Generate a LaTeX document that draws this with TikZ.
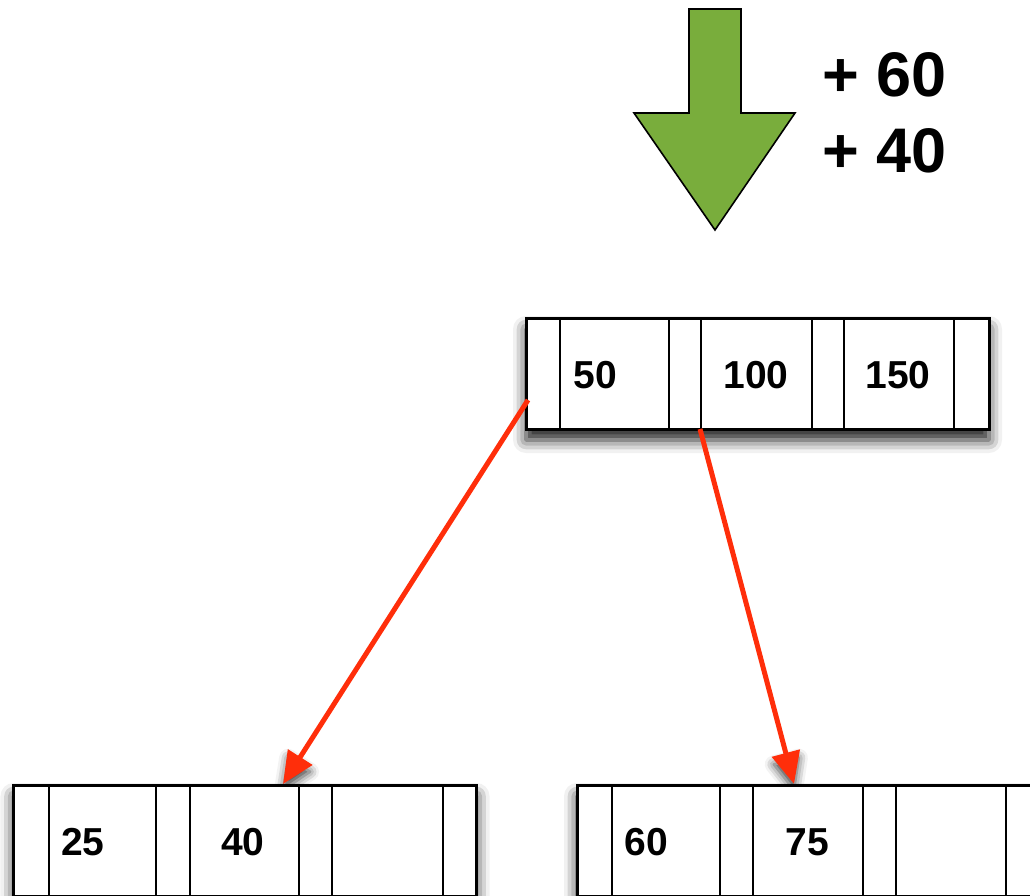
\documentclass[tikz,border=0pt]{standalone}
\usepackage{fontspec}
\setmainfont{Liberation Sans}
\usetikzlibrary{arrows.meta,shadows.blur,calc}

\definecolor{ptrred}{HTML}{FF2E0A}
\definecolor{insgreen}{HTML}{79AD3C}

\tikzset{
  softshadow/.style={blur shadow={shadow xshift=0pt, shadow yshift=-11pt,
      shadow blur radius=13pt, shadow opacity=90}},
  btnode/.style={draw=black, line width=3pt, fill=white,
    minimum width=463pt, minimum height=111pt, inner sep=0pt, softshadow},
  divider/.style={line width=2.5pt},
  keytext/.style={font=\fontsize{39}{39}\selectfont\bfseries, anchor=base, inner sep=0pt},
  instext/.style={font=\fontsize{63}{63}\selectfont\bfseries, anchor=base west, inner sep=0pt},
  ptr/.style={draw=ptrred, line width=5pt, -{Triangle[length=32pt,width=28pt]}},
  tipshadow/.style={blur shadow={shadow xshift=0pt, shadow yshift=-6pt,
      shadow blur radius=9pt, shadow opacity=75}},
}

\begin{document}
\begin{tikzpicture}[x=1pt,y=-1pt]
  \useasboundingbox (0,0) rectangle (1030,896);
  \clip (0,0) rectangle (1030,896);

  % insertion arrow and the keys being inserted
  \draw[fill=insgreen, line width=1.6pt, line join=miter]
    (689,9) -- (741,9) -- (741,113) -- (795,113) -- (715,230)
    -- (634,113) -- (689,113) -- cycle;
  \node[instext] (ins60) at (822,97) {+ 60};
  \node[instext] (ins40) at (822,173) {+ 40};

  % root node
  \node[btnode] (root) at (757.5,373.5) {};
  \foreach \x in {560,669,701,812,844,954}
    \draw[divider] (\x,318) -- (\x,429);
  \node[keytext] (k50)  at (595,388) {50};
  \node[keytext] (k100) at (756,388) {100};
  \node[keytext] (k150) at (898,388) {150};

  % child pointer end points
  \coordinate (pL) at (528,400);
  \coordinate (pR) at (700,429);
  \coordinate (tL) at (283,784);
  \coordinate (tR) at (794,784);

  % soft shadows under the pointer heads
  \foreach \s/\t in {pL/tL,pR/tR}{
    \coordinate (b) at ($(\t)!30pt!(\s)$);
    \path[tipshadow] (\t) -- ($(b)!13pt!90:(\t)$) -- ($(b)!13pt!-90:(\t)$) -- cycle;
  }

  % left leaf
  \node[btnode] (leafL) at (245,840.5) {};
  \foreach \x in {49,156,190,299,332,443}
    \draw[divider] (\x,785) -- (\x,896);
  \node[keytext] (k25) at (83,855) {25};
  \node[keytext] (k40) at (243,855) {40};

  % right leaf
  \node[btnode] (leafR) at (808.5,840.5) {};
  \foreach \x in {612,720,753,863,896,1006}
    \draw[divider] (\x,785) -- (\x,896);
  \node[keytext] (k60) at (646,855) {60};
  \node[keytext] (k75) at (807,855) {75};

  % child pointers
  \draw[ptr] (pL) -- (tL);
  \draw[ptr] (pR) -- (tR);
\end{tikzpicture}
\end{document}
